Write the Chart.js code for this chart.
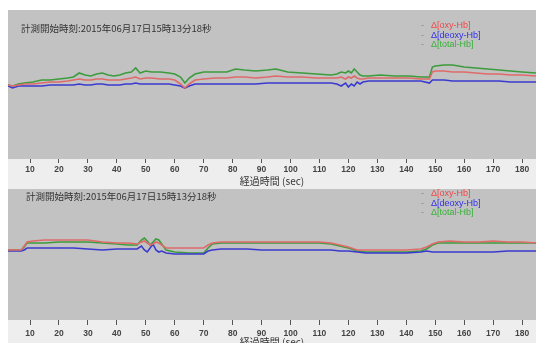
<!DOCTYPE html>
<html><head><meta charset="utf-8">
<script src="https://cdn.jsdelivr.net/npm/chart.js@4"></script>
<style>
html,body{margin:0;padding:0;background:#fff;width:536px;height:343px;overflow:hidden}
canvas{position:absolute;left:0}
#c1{top:0}
#c2{top:189px}
</style></head><body>
<canvas id="c1" width="536" height="189"></canvas>
<canvas id="c2" width="536" height="161"></canvas>
<script>
// ---- data ----
const seriesLabels = ['Δ[oxy-Hb]', 'Δ[deoxy-Hb]', 'Δ[total-Hb]'];
const headerText = '計測開始時刻:2015年06月17日15時13分18秒';
const axisTitle = '経過時間 (sec)';
const xTickStep = 10;

// upper panel
const time1 = [2.4,4,6,8,11,14,17,20,23,25,27,29,31,33,35,37,39,41,43,45,46.5,48,50,52,55,58,60,62,63.5,65,67,70,74,78,81,84,88,92,95,99,104,109,114,116,117.5,119,120,121,122,123,124,125,127,131,136,141,145,148,149,150,153,156,160,164,168,172,176,180,184.8];
const oxy1 = [-1,-2,-1,0,0,1,2,2,3,4,5,4,4,5,5,4,4,4,5,6,7,5,6,6,5,5,4,0,-4,0,4,5,6,6,7,7,6,7,8,7,7,6,6,6,7,5,7,6,8,6,5,5,6,6,6,6,5,5,12,13,13,12,12,11,10,10,9,9,8];
const deoxy1 = [-2,-4,-2,-2,-2,-2,-1,-1,-1,-1,0,-1,-1,0,0,-1,-1,-1,0,0,1,0,0,0,0,0,-1,-2,-4,-2,0,0,0,0,0,0,0,1,1,1,1,1,1,0,-2,1,-3,0,-2,2,0,2,3,3,3,3,3,1,4,4,4,3,3,3,3,3,2,2,2];
const total1 = [-1,-2,0,1,2,4,4,5,6,7,11,9,8,10,11,9,8,9,11,12,16,11,13,12,12,11,10,7,1,6,10,12,12,12,15,14,13,14,15,12,11,10,9,10,12,11,13,11,15,12,9,8,8,9,8,8,7,7,17,18,19,19,17,16,15,14,13,12,11];

// lower panel
const time2 = [2.4,5,7,8,9,11,15,20,25,30,35,40,44,47,48.5,49.5,50.5,51.5,52.5,53.5,54.5,55.5,57,60,65,70,71.5,73,76,80,85,90,95,100,105,110,114,117,120,123,126,130,135,140,145,147,149,151,155,160,165,170,175,180,184.8];
const oxy2 = [0,0,0,4,8,9,10,10,10,10,8,7,7,6,8,9,7,5,6,8,7,5,2,2,2,2,5,7,8,8,8,8,8,8,8,8,7,5,3,0,0,0,0,0,1,3,6,8,9,8,8,9,8,8,7];
const deoxy2 = [-1,-1,-1,0,2,2,2,2,2,1,0,1,1,1,4,0,-2,2,6,0,-2,-1,-3,-4,-4,-4,-1,0,1,1,1,0,0,0,0,0,0,-1,-1,-2,-3,-3,-3,-3,-2,-1,-2,-2,-2,-2,-2,-2,-1,-1,-1];
const total2 = [0,0,0,3,7,7,7,8,8,8,7,6,5,5,10,12,9,5,8,11,10,6,0,-2,-3,-3,2,6,7,7,7,7,7,7,7,7,6,4,2,-1,-2,-2,-2,-2,-1,1,5,7,7,7,7,7,7,7,7];

const lineColors = ['#e06a6a', '#3a3ad0', '#3c9c3c'];
const legendColors = ['#f04848', '#3030e8', '#38b038'];

function pts(t, v) { return t.map((x, i) => ({x: x, y: v[i]})); }

function makeChart(id, t, oxy, deoxy, total, opt) {
  const bgPlugin = {
    id: 'bg',
    beforeDraw(chart) {
      const c = chart.ctx, a = chart.chartArea;
      c.save();
      c.fillStyle = '#ffffff';
      c.fillRect(0, 0, chart.width, chart.height);
      c.fillStyle = '#eeeeee';
      c.fillRect(a.left, a.bottom, chart.width - a.left, chart.height - a.bottom);
      c.fillStyle = '#c2c2c2';
      c.fillRect(a.left, a.top, a.right - a.left, a.bottom - a.top);
      c.restore();
    },
    afterDatasetsDraw(chart) {
      const c = chart.ctx, a = chart.chartArea;
      c.save();
      c.textBaseline = 'middle';
      c.fillStyle = '#333';
      c.font = '9.5px "Noto Sans CJK JP"';
      c.fillText(headerText, opt.titleX, a.top + opt.titleDy);
      c.font = '9px "Liberation Sans"';
      chart.data.datasets.forEach((ds, i) => {
        const y = a.top + opt.legendDy + i * 9.5;
        c.fillStyle = '#888';
        c.fillText('-', 421, y);
        c.fillStyle = legendColors[i];
        c.fillText(ds.label, 431, y);
      });
      c.restore();
    }
  };
  return new Chart(document.getElementById(id), {
    type: 'line',
    data: {
      datasets: [
        {label: seriesLabels[0], data: pts(t, oxy), borderColor: lineColors[0]},
        {label: seriesLabels[1], data: pts(t, deoxy), borderColor: lineColors[1]},
        {label: seriesLabels[2], data: pts(t, total), borderColor: lineColors[2]}
      ]
    },
    options: {
      responsive: false,
      animation: false,
      layout: {padding: {left: 8, right: 0, top: opt.padTop, bottom: 0}},
      elements: {point: {radius: 0}, line: {borderWidth: 1.6, tension: 0}},
      plugins: {legend: {display: false}, tooltip: {enabled: false}, title: {display: false}},
      scales: {
        x: {
          type: 'linear', min: 2.4, max: 184.8,
          afterFit(s) { s.height = 30; },
          border: {display: false},
          grid: {drawOnChartArea: false, drawTicks: true, tickLength: opt.tickLen, tickColor: '#555', lineWidth: 1},
          ticks: {stepSize: xTickStep, includeBounds: false, autoSkip: false, maxRotation: 0, padding: opt.tickPad,
                  color: '#444', font: {family: 'Liberation Sans', size: 8.5, weight: 'bold'}},
          title: {display: true, text: axisTitle, color: '#333', padding: {top: 0, bottom: 2},
                  font: {family: 'Noto Sans CJK JP', size: 10}}
        },
        y: {display: false, min: opt.yMin, max: opt.yMax}
      }
    },
    plugins: [bgPlugin]
  });
}

makeChart('c1', time1, oxy1, deoxy1, total1,
  {padTop: 10, yMin: -75, yMax: 74, tickLen: 4, tickPad: 2, titleX: 21, titleDy: 18, legendDy: 16});
makeChart('c2', time2, oxy2, deoxy2, total2,
  {padTop: 0, yMin: -70, yMax: 61, tickLen: 5, tickPad: 4, titleX: 26, titleDy: 7, legendDy: 5});
</script>
</body></html>
